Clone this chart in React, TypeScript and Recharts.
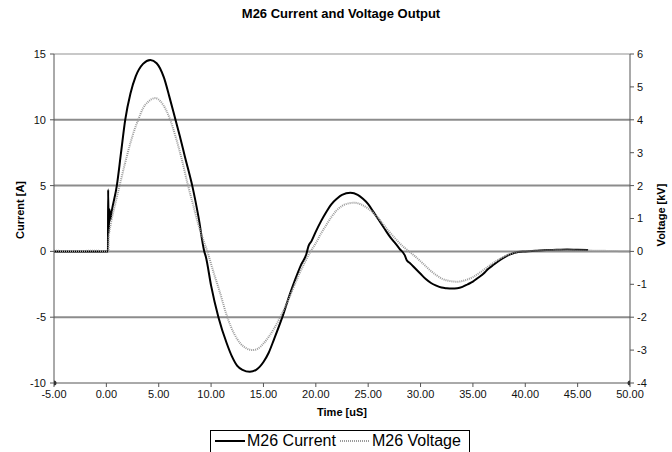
import {
  ComposedChart,
  Line,
  Scatter,
  XAxis,
  YAxis,
  ReferenceLine,
} from 'recharts';

const TIME_TICKS = [-5, 0, 5, 10, 15, 20, 25, 30, 35, 40, 45, 50];
const CURRENT_TICKS = [-10, -5, 0, 5, 10, 15];
const VOLTAGE_TICKS = [-4, -3, -2, -1, 0, 1, 2, 3, 4, 5, 6];
const GRID_LINES = [10, 5, 0, -5];

// M26 current (A) vs time (uS)
const currentTime = [
  -5, -3, -1, 0.15, 0.17, 0.22, 0.3, 0.38, 0.5, 1.0, 1.4, 1.8, 2.3, 2.8, 3.5,
  4.2, 4.8, 5.5, 6.0, 6.6, 7.0, 7.5, 8.2, 8.8, 9.35, 9.5, 10.0, 10.7, 11.5,
  12.0, 12.5, 13.0, 13.7, 14.3, 15.0, 15.5, 16.0, 16.8, 17.5, 18.0, 18.6, 19.1,
  19.3, 19.6, 20.0, 20.5, 21.0, 21.5, 22.0, 22.5, 23.3, 24.0, 24.5, 25.0, 25.5,
  26.0, 26.5, 27.0, 27.5, 28.0, 28.5, 28.7, 29.0, 29.5, 30.0, 30.5, 31.0, 31.5,
  32.0, 32.5, 33.0, 33.5, 34.0, 34.5, 35.0, 35.5, 36.0, 36.5, 37.0, 37.5, 38.0,
  38.5, 39.0, 40.0, 41.0, 42.0, 43.0, 44.0, 45.0, 46.0,
];
const currentAmps = [
  0, 0, 0, 0, 4.7, 1.4, 3.2, 2.4, 3.0, 5.0, 7.5, 10.0, 12.0, 13.3, 14.25,
  14.55, 14.3, 13.2, 11.8, 10.0, 8.8, 7.2, 5.0, 2.6, 0, -0.4, -2.6, -5.0, -7.0,
  -8.0, -8.7, -9.0, -9.15, -9.0, -8.4, -7.7, -6.7, -5.0, -3.3, -2.2, -1.0, -0.2,
  0.4, 0.8, 1.5, 2.3, 3.0, 3.6, 4.0, 4.3, 4.45, 4.3, 4.0, 3.6, 3.0,
  2.4, 1.8, 1.2, 0.7, 0.2, -0.3, -0.7, -0.9, -1.3, -1.7, -2.1, -2.4, -2.6,
  -2.75, -2.8, -2.82, -2.8, -2.7, -2.5, -2.3, -2.0, -1.7, -1.3, -1.0, -0.7, -0.45,
  -0.25, -0.1, 0, 0.05, 0.1, 0.12, 0.15, 0.12, 0.1,
];

// M26 voltage (kV) vs time (uS)
const voltageTime = [
  -5, -3, -1, 0.2, 0.22, 0.4, 0.7, 1.0, 1.3, 1.8, 2.3, 2.8, 3.04, 3.5, 4.0,
  4.67, 5.2, 5.7, 6.1, 6.6, 7.2, 7.8, 8.3, 8.8, 9.2, 9.64, 10.2, 10.8, 11.55,
  12.2, 12.8, 13.4, 13.95, 14.5, 15.0, 15.5, 16.0, 16.6, 17.2, 17.8, 18.4, 19.0,
  19.5, 20.0, 20.5, 21.0, 21.5, 22.0, 22.5, 23.0, 23.7, 24.3, 25.0, 25.5, 26.0,
  26.5, 27.0, 27.5, 28.0, 28.5, 29.3, 30.0, 30.5, 31.0, 31.5, 32.0, 32.5, 33.5,
  34.0, 34.5, 35.0, 35.5, 36.0, 36.5, 37.0, 37.5, 38.0, 38.5, 39.5, 41.0, 43.0,
  45.0, 47.0, 50.0,
];
const voltageKv = [
  0.02, 0.01, 0.02, 0, 0.4, 0.8, 1.25, 1.65, 2.05, 2.7, 3.3, 3.8, 4.0, 4.35, 4.55,
  4.66, 4.55, 4.3, 4.0, 3.5, 2.8, 2.0, 1.4, 0.8, 0.4, 0, -0.6, -1.2, -2.0,
  -2.5, -2.8, -2.95, -3.0, -2.95, -2.8, -2.6, -2.35, -2.0, -1.6, -1.15, -0.7, -0.3,
  0, 0.25, 0.55, 0.8, 1.05, 1.25, 1.38, 1.45, 1.48, 1.43, 1.3, 1.17, 1.0,
  0.8, 0.6, 0.42, 0.25, 0.1, -0.1, -0.3, -0.45, -0.6, -0.72, -0.82, -0.88, -0.92,
  -0.9, -0.85, -0.78, -0.68, -0.57, -0.45, -0.34, -0.24, -0.15, -0.08, 0, 0.02, 0.04,
  0.03, 0.02, 0,
];

const cornerTime = [-5, 50];
const cornerAmps = [-10, -10];

const currentData = currentTime.map((t, i) => ({ t, amps: currentAmps[i] }));
const voltageData = voltageTime.map((t, i) => ({ t, kv: voltageKv[i] }));
const cornerData = cornerTime.map((t, i) => ({ t, amps: cornerAmps[i] }));

const FONT = '"Liberation Sans", Arial, sans-serif';
const AXIS = '#555';
const tick = { fill: '#111', fontSize: 11, fontFamily: FONT };

export default function App() {
  return (
    <div
      style={{
        position: 'relative',
        width: 672,
        height: 452,
        overflow: 'hidden',
        background: '#fff',
        fontFamily: FONT,
      }}
    >
      <style>{`body{margin:0}`}</style>
      <div
        style={{
          position: 'absolute',
          top: 6,
          left: 0,
          width: 682,
          textAlign: 'center',
          fontSize: 13,
          fontWeight: 'bold',
        }}
      >
        M26 Current and Voltage Output
      </div>
      <ComposedChart
        width={672}
        height={452}
        margin={{ top: 54, right: 12, bottom: 39, left: 20 }}
      >
        <XAxis
          type="number"
          dataKey="t"
          domain={[-5, 50]}
          ticks={TIME_TICKS}
          tickFormatter={(v: number) => v.toFixed(2)}
          allowDataOverflow
          height={30}
          tick={tick}
          tickSize={4}
          tickMargin={3}
          stroke={AXIS}
        />
        <YAxis
          yAxisId="left"
          type="number"
          domain={[-10, 15]}
          ticks={CURRENT_TICKS}
          width={34}
          tick={tick}
          tickSize={4}
          tickMargin={4}
          stroke={AXIS}
        />
        <YAxis
          yAxisId="right"
          orientation="right"
          type="number"
          domain={[-4, 6]}
          ticks={VOLTAGE_TICKS}
          width={30}
          tick={tick}
          tickSize={4}
          tickMargin={3}
          stroke={AXIS}
        />
        <ReferenceLine yAxisId="left" y={15} stroke="#c8c8c8" strokeWidth={2} />
        {GRID_LINES.map((g) => (
          <ReferenceLine key={g} yAxisId="left" y={g} stroke="#8c8c8c" strokeWidth={2} />
        ))}
        <Line
          yAxisId="left"
          data={currentData}
          dataKey="amps"
          type="monotone"
          stroke="#000"
          strokeWidth={2}
          dot={false}
          isAnimationActive={false}
        />
        <Line
          yAxisId="right"
          data={voltageData}
          dataKey="kv"
          type="monotone"
          stroke="#9a9a9a"
          strokeWidth={2}
          strokeDasharray="1 1"
          dot={false}
          isAnimationActive={false}
        />
        <Scatter
          yAxisId="left"
          data={cornerData}
          dataKey="amps"
          fill="#333"
          shape={(p: any) => <circle cx={p.cx} cy={p.cy} r={2.5} fill="#333" />}
          isAnimationActive={false}
        />
      </ComposedChart>
      <div
        style={{
          position: 'absolute',
          left: 4,
          top: 210,
          transform: 'translate(-50%, -50%) rotate(-90deg)',
          marginLeft: 16,
          fontSize: 11,
          fontWeight: 'bold',
          whiteSpace: 'nowrap',
        }}
      >
        Current [A]
      </div>
      <div
        style={{
          position: 'absolute',
          left: 661,
          top: 215,
          transform: 'translate(-50%, -50%) rotate(-90deg)',
          fontSize: 11,
          fontWeight: 'bold',
          whiteSpace: 'nowrap',
        }}
      >
        Voltage [kV]
      </div>
      <div
        style={{
          position: 'absolute',
          top: 406,
          left: 292,
          width: 100,
          textAlign: 'center',
          fontSize: 11,
          fontWeight: 'bold',
        }}
      >
        Time [uS]
      </div>
      <div
        style={{
          position: 'absolute',
          top: 430,
          left: 210,
          width: 260,
          height: 30,
          border: '1px solid #000',
          background: '#fff',
          display: 'flex',
          alignItems: 'center',
          paddingLeft: 4,
          boxSizing: 'border-box',
          paddingBottom: 8,
          fontSize: 16,
        }}
      >
        <svg width={30} height={6}>
          <line x1={0} y1={3} x2={30} y2={3} stroke="#000" strokeWidth={2} />
        </svg>
        <span style={{ marginLeft: 2, marginRight: 4 }}>M26 Current</span>
        <svg width={30} height={6}>
          <line x1={0} y1={3} x2={30} y2={3} stroke="#9a9a9a" strokeWidth={2} strokeDasharray="1 1" />
        </svg>
        <span style={{ marginLeft: 2 }}>M26 Voltage</span>
      </div>
    </div>
  );
}
